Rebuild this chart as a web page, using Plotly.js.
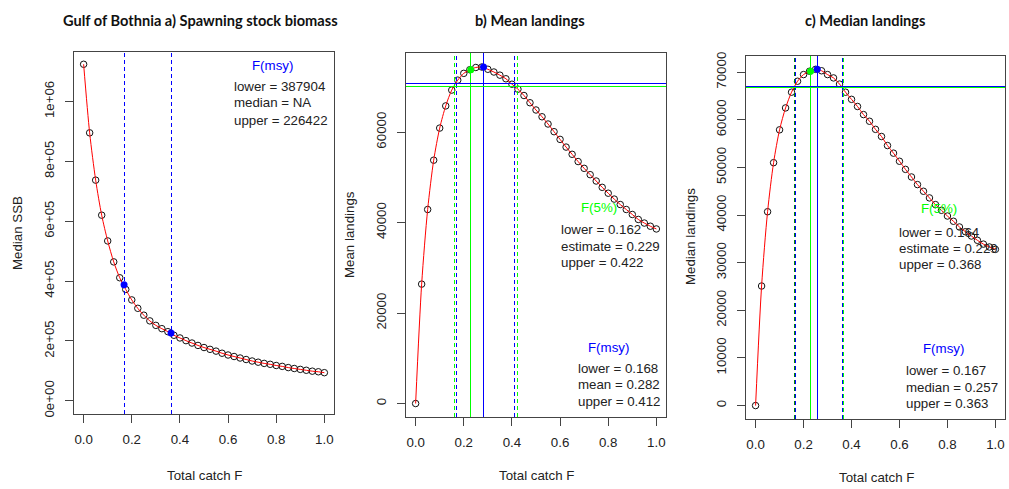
<!DOCTYPE html>
<html>
<head>
<meta charset="utf-8">
<script src="https://cdn.plot.ly/plotly-3.0.1.min.js"></script>
<style>html,body{margin:0;padding:0;background:#fff}#chart{width:1009px;height:489px}
#chart .shapelayer path{shape-rendering:crispEdges}</style>
</head>
<body>
<div id="chart"></div>
<script>
// ---- data ----
const Fgrid = [0,0.025,0.05,0.075,0.1,0.125,0.15,0.175,0.2,0.225,0.25,0.275,0.3,0.325,0.35,0.375,0.4,0.425,0.45,0.475,0.5,0.525,0.55,0.575,0.6,0.625,0.65,0.675,0.7,0.725,0.75,0.775,0.8,0.825,0.85,0.875,0.9,0.925,0.95,0.975,1.0];
const medianSSB = [1124000,895000,737000,620000,534000,464000,411000,372000,337000,309000,286000,267000,252000,241000,231000,219000,210000,201000,193000,185000,178000,172000,166000,159000,153000,148000,143000,138000,133000,129000,125000,122000,118000,115000,111000,108000,105000,102000,99000,97000,94000];
const meanLandings = [0,26400,42900,53800,60900,65800,69300,71500,73000,73800,74300,74400,73900,73300,72600,71800,70600,69500,68100,66500,64900,63400,61800,60100,58400,56700,55100,53500,52000,50600,49200,47800,46500,45200,44000,42900,41800,40700,39900,39200,38600];
const medianLandings = [0,25100,40700,51000,57900,62500,65800,68100,69500,70200,70600,70300,69500,68800,67500,65800,64300,62800,61100,59700,58000,56500,54600,53000,51300,49600,48000,46400,45000,43600,42200,41000,39800,38700,37500,36500,35600,34700,33900,33300,32800];

// reference points / lines
const ssbMsyF = [0.168, 0.363];
const ssbMsyVal = [387904, 226422];
const bMsy = {lower:0.168, mean:0.282, upper:0.412, peak:74400, level:70700};
const b5 = {lower:0.162, est:0.229, upper:0.422, peak:73800, level:70100};
const cMsy = {lower:0.167, median:0.257, upper:0.363, peak:70600, level:67100};
const c5 = {lower:0.164, est:0.229, upper:0.368, peak:70200, level:66700};

const xTicks = [0,0.2,0.4,0.6,0.8,1.0];
const xTickText = ['0.0','0.2','0.4','0.6','0.8','1.0'];
const aYTicks = [0,200000,400000,600000,800000,1000000];
const aYText = ['0e+00','2e+05','4e+05','6e+05','8e+05','1e+06'];
const bYTicks = [0,20000,40000,60000];
const cYTicks = [0,10000,20000,30000,40000,50000,60000,70000];

const titles = ['Gulf of Bothnia a) Spawning stock biomass','b) Mean landings','c) Median landings'];
const yTitles = ['Median SSB','Mean landings','Median landings'];
const xTitle = 'Total catch F';

// ---- layout helpers ----
const W = 1009, H = 489;
const px = x => x / W;
const py = y => 1 - y / H;
const BLUE = '#0000ff', GREEN = '#00ff00', RED = '#ff0000';
const FONT = 'Liberation Sans, Arial, sans-serif';
const fs = 13.3;

function xa(dom){
  return {domain:[px(dom[0]),px(dom[1])], range:[-0.04,1.04], tickvals:xTicks, ticktext:xTickText,
    ticks:'outside', ticklen:8, tickcolor:'#444', showline:true, linecolor:'#444', linewidth:1, mirror:true,
    ticklabelstandoff:5,
    showgrid:false, zeroline:false, tickfont:{family:FONT,size:fs,color:'#222'}, fixedrange:true};
}
function ya(dom, rng, tv, tt){
  return {domain:[py(dom[1]),py(dom[0])], range:rng, tickvals:tv, ticktext:tt, tickangle:-90,
    ticks:'outside', ticklen:8, tickcolor:'#444', showline:true, linecolor:'#444', linewidth:1, mirror:true,
    ticklabelstandoff:6,
    showgrid:false, zeroline:false, tickfont:{family:FONT,size:fs,color:'#222'}, fixedrange:true};
}

function curve(xaxis, yaxis, ys){
  return [
    {x:Fgrid, y:ys, xaxis:xaxis, yaxis:yaxis, mode:'markers', type:'scatter', hoverinfo:'skip',
      marker:{symbol:'circle-open', size:6.5, color:'#111', line:{width:1,color:'#111'}}},
    {x:Fgrid, y:ys, xaxis:xaxis, yaxis:yaxis, mode:'lines', type:'scatter', hoverinfo:'skip',
      line:{color:RED, width:1, shape:'spline', smoothing:0.8}}
  ];
}
function pt(xaxis, yaxis, xs, ys, col){
  return {x:xs, y:ys, xaxis:xaxis, yaxis:yaxis, mode:'markers', type:'scatter', hoverinfo:'skip',
    marker:{symbol:'circle', size:7, color:col}};
}

const traces = [
  ...curve('x','y',medianSSB),
  pt('x','y',ssbMsyF,ssbMsyVal,BLUE),
  ...curve('x2','y2',meanLandings),
  pt('x2','y2',[b5.est],[b5.peak],GREEN),
  pt('x2','y2',[bMsy.mean],[bMsy.peak],BLUE),
  ...curve('x3','y3',medianLandings),
  pt('x3','y3',[c5.est],[c5.peak],GREEN),
  pt('x3','y3',[cMsy.median],[cMsy.peak],BLUE)
];

const DASH = '4px,3px';
function vline(ax, x, col, dash){
  return {type:'line', xref:'x'+ax, yref:'y'+ax+' domain', x0:x, x1:x, y0:0, y1:1,
    line:{color:col, width:1, dash:dash?DASH:'solid'}, layer:'above'};
}
function hline(ax, y, col){
  return {type:'line', xref:'x'+ax+' domain', yref:'y'+ax, x0:0, x1:1, y0:y, y1:y,
    line:{color:col, width:1}, layer:'above'};
}

const shapes = [
  vline('', ssbMsyF[0], BLUE, true), vline('', ssbMsyF[1], BLUE, true),
  vline('2', b5.lower, GREEN, true), vline('2', b5.upper, GREEN, true), vline('2', b5.est, GREEN, false),
  vline('2', bMsy.lower, BLUE, true), vline('2', bMsy.upper, BLUE, true), vline('2', bMsy.mean, BLUE, false),
  hline('2', bMsy.level, BLUE), hline('2', b5.level, GREEN),
  vline('3', c5.lower, '#008800', true), vline('3', c5.upper, GREEN, true), vline('3', c5.est, GREEN, false),
  vline('3', cMsy.lower, BLUE, true), vline('3', cMsy.upper, BLUE, true), vline('3', cMsy.median, BLUE, false),
  hline('3', cMsy.level, BLUE), hline('3', c5.level, GREEN)
];

function ann(text, x, y, opts){
  return Object.assign({text:text, x:px(x), y:py(y), xref:'paper', yref:'paper', showarrow:false,
    xanchor:'left', yanchor:'middle', font:{family:FONT, size:fs, color:'#222'}}, opts||{});
}
function centered(text, x, y, col){
  return ann(text, x, y, {xanchor:'center', font:{family:FONT, size:fs, color:col}});
}
const TFONT = {family:'Lato, Carlito, sans-serif', size:14.6, color:'#111', weight:'bold'};

const annotations = [
  // titles
  ann('<b>'+titles[0]+'</b>', 200, 20, {xanchor:'center', font:TFONT}),
  ann('<b>'+titles[1]+'</b>', 530, 20, {xanchor:'center', font:TFONT}),
  ann('<b>'+titles[2]+'</b>', 865, 20, {xanchor:'center', font:TFONT}),
  // axis titles
  ann(xTitle, 204, 475, {xanchor:'center'}),
  ann(xTitle, 536, 475, {xanchor:'center'}),
  ann(xTitle, 876, 477, {xanchor:'center'}),
  ann(yTitles[0], 17, 233, {xanchor:'center', textangle:-90}),
  ann(yTitles[1], 350, 235, {xanchor:'center', textangle:-90}),
  ann(yTitles[2], 690, 237, {xanchor:'center', textangle:-90}),
  // panel a
  centered('F(msy)', 272, 65, BLUE),
  ann('lower = ' + ssbMsyVal[0], 232, 87),
  ann('median = NA', 232, 103),
  ann('upper = ' + ssbMsyVal[1], 232, 120),
  // panel b
  centered('F(5%)', 599, 207, GREEN),
  ann('lower = ' + b5.lower.toFixed(3), 559, 229),
  ann('estimate = ' + b5.est.toFixed(3), 559, 246),
  ann('upper = ' + b5.upper.toFixed(3), 559, 262),
  centered('F(msy)', 608, 347, BLUE),
  ann('lower = ' + bMsy.lower.toFixed(3), 576, 368),
  ann('mean = ' + bMsy.mean.toFixed(3), 576, 384),
  ann('upper = ' + bMsy.upper.toFixed(3), 576, 401),
  // panel c
  centered('F(5%)', 939, 208, GREEN),
  ann('lower = ' + c5.lower.toFixed(3), 897, 232),
  ann('estimate = ' + c5.est.toFixed(3), 897, 248),
  ann('upper = ' + c5.upper.toFixed(3), 897, 264),
  centered('F(msy)', 943, 348, BLUE),
  ann('lower = ' + cMsy.lower.toFixed(3), 904, 370),
  ann('median = ' + cMsy.median.toFixed(3), 904, 387),
  ann('upper = ' + cMsy.upper.toFixed(3), 904, 403)
];

const layout = {
  width:W, height:H, margin:{l:0,r:0,t:0,b:0}, showlegend:false,
  paper_bgcolor:'#fff', plot_bgcolor:'#fff',
  xaxis: xa([74,334]),
  yaxis: ya([52,414], [-44000,1165000], aYTicks, aYText),
  xaxis2: Object.assign(xa([406,666]), {anchor:'y2'}),
  yaxis2: Object.assign(ya([53,417], [-2980,77500], bYTicks, bYTicks.map(String)), {anchor:'x2'}),
  xaxis3: Object.assign(xa([746,1005]), {anchor:'y3'}),
  yaxis3: Object.assign(ya([56,419], [-2820,73400], cYTicks, cYTicks.map(String)), {anchor:'x3'}),
  shapes: shapes,
  annotations: annotations
};
layout.xaxis.anchor = 'y';
layout.yaxis.anchor = 'x';

Plotly.newPlot('chart', traces, layout, {staticPlot:true, displayModeBar:false});
</script>
</body>
</html>
